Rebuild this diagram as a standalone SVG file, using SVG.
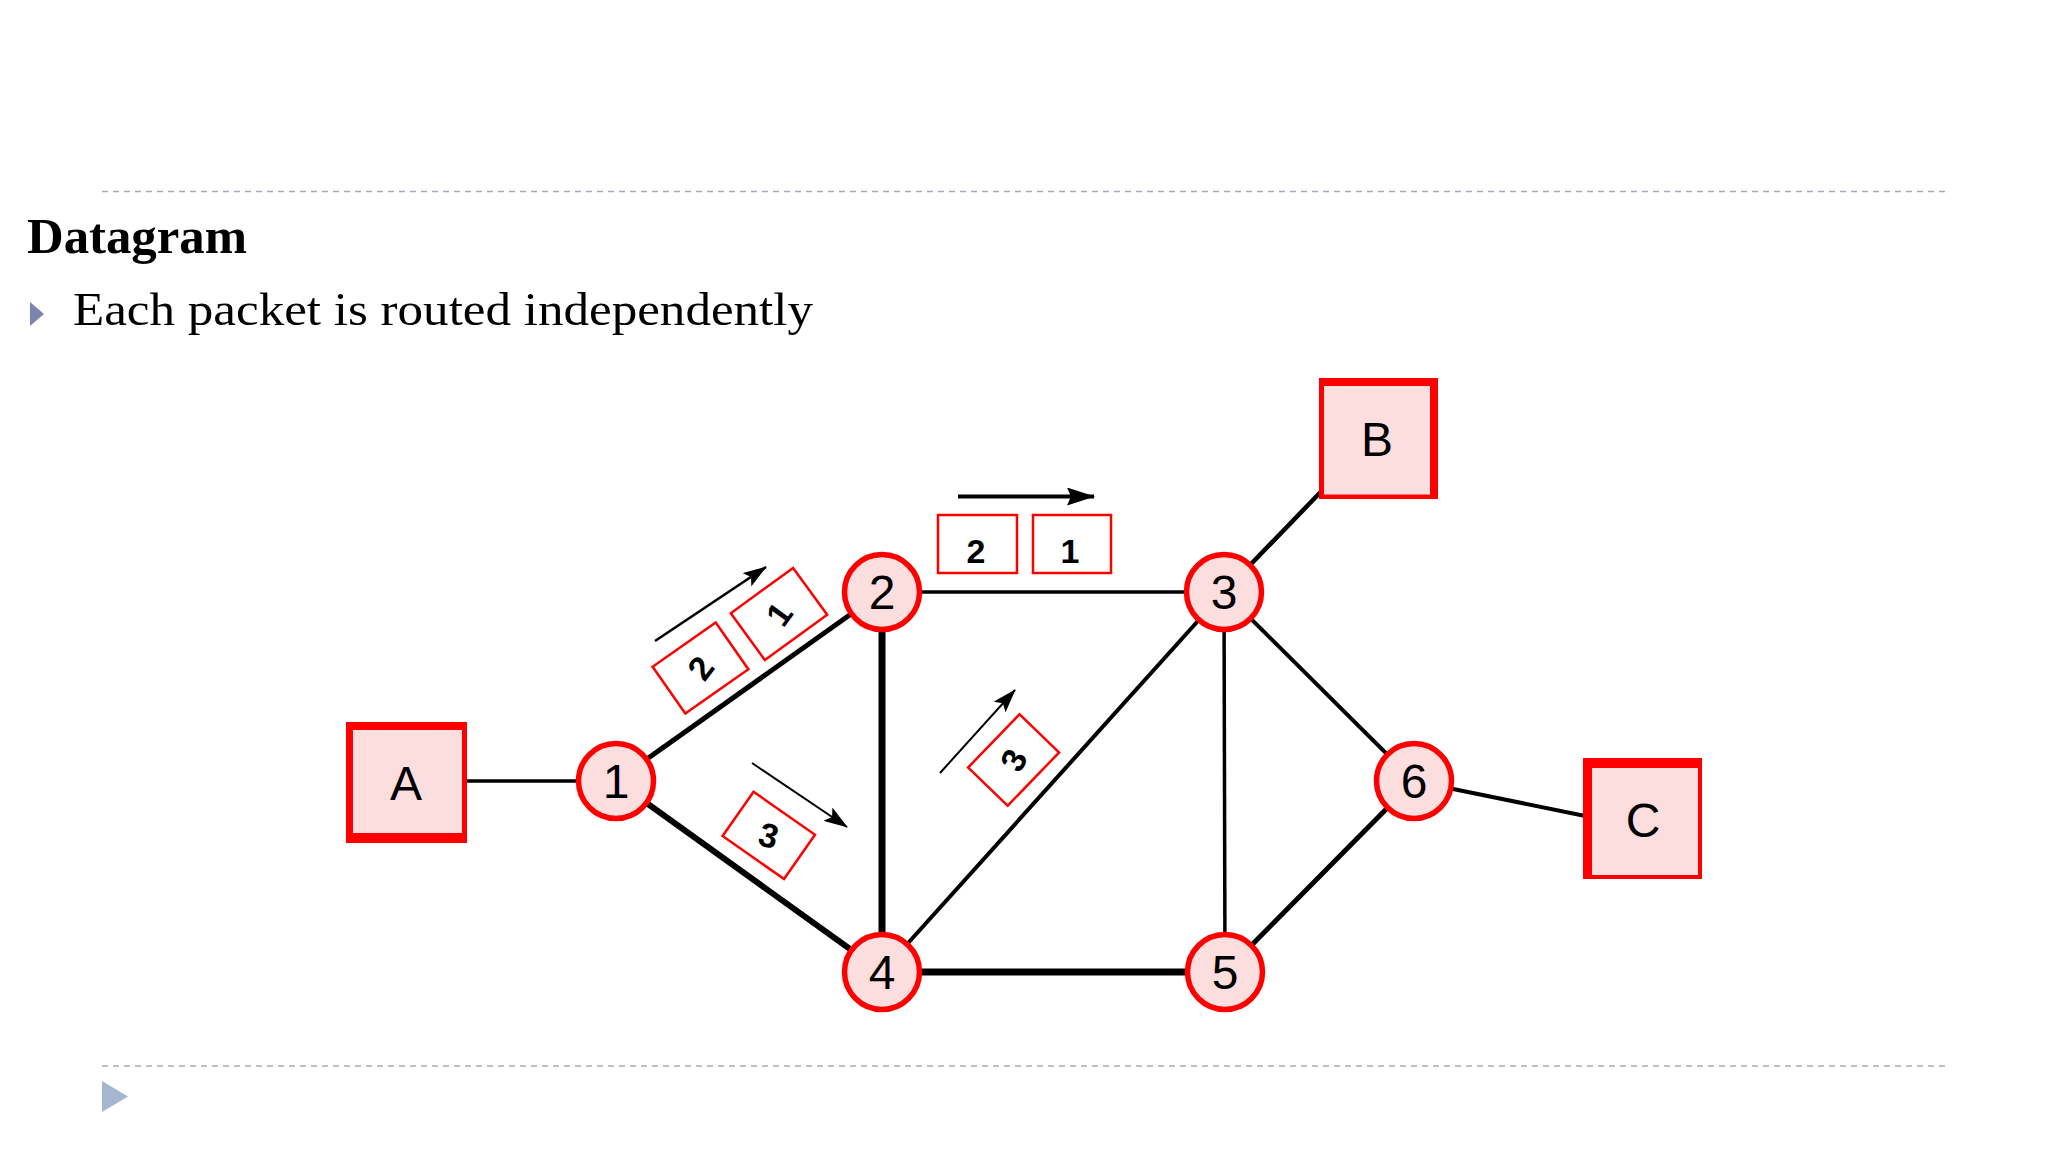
<svg xmlns="http://www.w3.org/2000/svg" width="2048" height="1152" viewBox="0 0 2048 1152">
  <style>
    .sep { stroke: #A3ABBC; stroke-width: 1.6; stroke-dasharray: 6 5; fill: none; }
    .title { font-family: "Liberation Serif", "Times New Roman", serif; fill: #000; }
    .edge { stroke: #000; fill: none; stroke-linecap: butt; }
    .node circle { fill: #FDDEDE; stroke: #FF0000; stroke-width: 5.5; }
    .node text, .host text { font-family: "Liberation Sans", Arial, sans-serif; font-size: 48px; fill: #000; text-anchor: middle; }
    .boxOuter { fill: #FF0000; }
    .boxInner { fill: #FDDEDE; }
    .pkt rect { fill: #FFFFFF; stroke: #FF0000; stroke-width: 2.5; }
    .pkt text { font-family: "Liberation Sans", Arial, sans-serif; font-size: 34px; font-weight: bold; fill: #000; text-anchor: middle; }
    .arrow { stroke: #000; fill: none; }
  </style>
  <defs>
    <marker id="ah" markerUnits="userSpaceOnUse" markerWidth="24" markerHeight="16" viewBox="0 0 24 16" refX="23" refY="8" orient="auto">
      <path d="M0,0 L24,8 L0,16 L5,8 Z" fill="#000"/>
    </marker>
    <marker id="ahBig" markerUnits="userSpaceOnUse" markerWidth="28" markerHeight="18" viewBox="0 0 28 18" refX="27" refY="9" orient="auto">
      <path d="M0,0 L28,9 L0,18 L4,9 Z" fill="#000"/>
    </marker>
  </defs>

  <rect x="0" y="0" width="2048" height="1152" fill="#FFFFFF"/>

  <!-- slide frame -->
  <line class="sep" x1="102" y1="191.5" x2="1946" y2="191.5"/>
  <line class="sep" x1="102" y1="1066" x2="1946" y2="1066"/>
  <polygon points="102,1081 128,1096.5 102,1112" fill="#A4B6D0"/>

  <!-- title and bullet -->
  <text class="title" x="27" y="253" font-size="50" font-weight="bold" textLength="220" lengthAdjust="spacingAndGlyphs">Datagram</text>
  <polygon points="30,302 44,314 30,326" fill="#7B83AE"/>
  <text class="title" x="73" y="325" font-size="47" textLength="740" lengthAdjust="spacingAndGlyphs">Each packet is routed independently</text>

  <!-- connectors -->
  <g id="connectors">
    <line class="edge" x1="406" y1="781" x2="616" y2="781" stroke-width="3.5"/>
    <line class="edge" x1="616" y1="781" x2="882" y2="592" stroke-width="5"/>
    <line class="edge" x1="616" y1="781" x2="882" y2="972" stroke-width="6"/>
    <line class="edge" x1="882" y1="592" x2="1224" y2="592" stroke-width="3.5"/>
    <line class="edge" x1="882" y1="592" x2="882" y2="972" stroke-width="7"/>
    <line class="edge" x1="1224" y1="592" x2="1340" y2="472" stroke-width="4.5"/>
    <line class="edge" x1="882" y1="972" x2="1224" y2="592" stroke-width="4"/>
    <line class="edge" x1="1224" y1="592" x2="1225" y2="972" stroke-width="3.5"/>
    <line class="edge" x1="1224" y1="592" x2="1414" y2="781" stroke-width="4"/>
    <line class="edge" x1="882" y1="972" x2="1225" y2="972" stroke-width="7"/>
    <line class="edge" x1="1225" y1="972" x2="1414" y2="781" stroke-width="5"/>
    <line class="edge" x1="1414" y1="781" x2="1600" y2="819" stroke-width="4"/>
  </g>

  <!-- packets and direction arrows -->
  <g id="packets">
    <line class="arrow" x1="655" y1="641" x2="766" y2="567" stroke-width="2.5" marker-end="url(#ah)"/>
    <g class="pkt" transform="translate(700.5,668) rotate(-35)">
      <rect x="-38.5" y="-28.5" width="77" height="57"/>
      <text transform="rotate(-18)" y="12">2</text>
    </g>
    <g class="pkt" transform="translate(779,614) rotate(-36)">
      <rect x="-38.5" y="-29" width="77" height="58"/>
      <text transform="rotate(-18)" y="12">1</text>
    </g>

    <line class="arrow" x1="752" y1="763" x2="847" y2="827" stroke-width="2" marker-end="url(#ah)"/>
    <g class="pkt" transform="translate(768.8,835.4) rotate(35)">
      <rect x="-37.5" y="-27" width="75" height="54"/>
      <text transform="rotate(-20)" y="12">3</text>
    </g>

    <line class="arrow" x1="958" y1="496.5" x2="1094" y2="496.5" stroke-width="4" marker-end="url(#ahBig)"/>
    <g class="pkt">
      <rect x="938" y="515" width="79" height="58"/>
      <text x="976" y="563">2</text>
    </g>
    <g class="pkt">
      <rect x="1033" y="515" width="78" height="58"/>
      <text x="1070" y="563">1</text>
    </g>

    <line class="arrow" x1="940" y1="773" x2="1015" y2="690" stroke-width="2" marker-end="url(#ah)"/>
    <g class="pkt" transform="translate(1013.6,760) rotate(-46)">
      <rect x="-37" y="-27.5" width="74" height="55"/>
      <text transform="rotate(-16)" y="12">3</text>
    </g>
  </g>

  <!-- hosts -->
  <g id="host-A" class="host">
    <rect class="boxOuter" x="346" y="722" width="121" height="121"/>
    <rect class="boxInner" x="353" y="730" width="109" height="103"/>
    <text x="406" y="800">A</text>
  </g>
  <g id="host-B" class="host">
    <rect class="boxOuter" x="1319" y="378" width="119" height="121"/>
    <rect class="boxInner" x="1324" y="386" width="106" height="108.5"/>
    <text x="1377" y="456">B</text>
  </g>
  <g id="host-C" class="host">
    <rect class="boxOuter" x="1583" y="758" width="119" height="121"/>
    <rect class="boxInner" x="1592" y="768" width="106" height="107"/>
    <text x="1643" y="837">C</text>
  </g>

  <!-- routers -->
  <g id="node-1" class="node"><circle cx="616" cy="781" r="37.5"/><text x="616" y="798">1</text></g>
  <g id="node-2" class="node"><circle cx="882" cy="592" r="37.5"/><text x="882" y="609">2</text></g>
  <g id="node-3" class="node"><circle cx="1224" cy="592" r="37.5"/><text x="1224" y="609">3</text></g>
  <g id="node-4" class="node"><circle cx="882" cy="972" r="37.5"/><text x="882" y="989">4</text></g>
  <g id="node-5" class="node"><circle cx="1225" cy="972" r="37.5"/><text x="1225" y="989">5</text></g>
  <g id="node-6" class="node"><circle cx="1414" cy="781" r="37.5"/><text x="1414" y="798">6</text></g>
</svg>
